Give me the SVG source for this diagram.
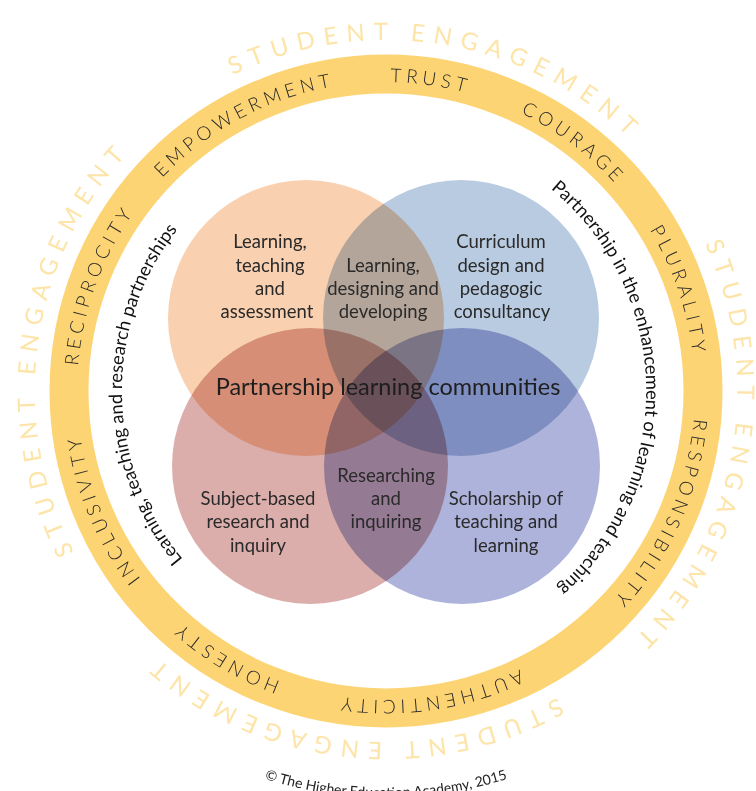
<svg xmlns="http://www.w3.org/2000/svg" xmlns:xlink="http://www.w3.org/1999/xlink" width="756" height="791" viewBox="0 0 756 791">
<style>
.outer{font-family:Lato,"Liberation Sans",sans-serif;font-size:24px;font-weight:400;fill:#fde4a8;letter-spacing:8.5px}
.ringw{font-family:Lato,"Liberation Sans",sans-serif;font-size:19px;font-weight:300;fill:#2a2a2a;letter-spacing:4.5px}
.inner{font-family:Lato,"Liberation Sans",sans-serif;font-size:18.3px;fill:#111111}
.lbl{font-family:Lato,"Liberation Sans",sans-serif;font-size:18.5px;fill:#2a2a2a;text-anchor:middle}
.big{font-family:Lato,"Liberation Sans",sans-serif;font-size:23.5px;fill:#1e1e1e;text-anchor:middle}
.copy{font-family:Lato,"Liberation Sans",sans-serif;font-size:14px;fill:#222222}
.c{mix-blend-mode:multiply}
</style>
<defs>
<path id="pOuter" d="M386,40 A351,351 0 1 1 386,742 A351,351 0 1 1 386,40 A351,351 0 1 1 386,742 A351,351 0 1 1 386,40"/>
<path id="pRing" d="M386,82 A309,309 0 1 1 386,700 A309,309 0 1 1 386,82 A309,309 0 1 1 386,700 A309,309 0 1 1 386,82"/>
<path id="pInner" d="M384,129 A262,262 0 1 1 384,653 A262,262 0 1 1 384,129 A262,262 0 1 1 384,653 A262,262 0 1 1 384,129"/>
<path id="pCopy" d="M183,743 A406,406 0 0 0 589,743"/>
</defs>
<rect width="756" height="791" fill="#ffffff"/>

<g id="ring">
<circle cx="386" cy="391" r="317" fill="none" stroke="#fdd473" stroke-width="39"/>
</g>

<g id="outer-text">
<text class="outer" text-anchor="middle"><textPath xlink:href="#pOuter" startOffset="2263">STUDENT ENGAGEMENT</textPath></text>
<text class="outer" text-anchor="middle"><textPath xlink:href="#pOuter" startOffset="2821">STUDENT ENGAGEMENT</textPath></text>
<text class="outer" text-anchor="middle"><textPath xlink:href="#pOuter" startOffset="3345">STUDENT ENGAGEMENT</textPath></text>
<text class="outer" text-anchor="middle"><textPath xlink:href="#pOuter" startOffset="3908">STUDENT ENGAGEMENT</textPath></text>
</g>

<g id="values">
<text class="ringw" text-anchor="middle"><textPath xlink:href="#pRing" startOffset="1790">EMPOWERMENT</textPath></text>
<text class="ringw" text-anchor="middle"><textPath xlink:href="#pRing" startOffset="1985">TRUST</textPath></text>
<text class="ringw" text-anchor="middle"><textPath xlink:href="#pRing" startOffset="2141">COURAGE</textPath></text>
<text class="ringw" text-anchor="middle"><textPath xlink:href="#pRing" startOffset="2324">PLURALITY</textPath></text>
<text class="ringw" text-anchor="middle"><textPath xlink:href="#pRing" startOffset="2556">RESPONSIBILITY</textPath></text>
<text class="ringw" text-anchor="middle"><textPath xlink:href="#pRing" startOffset="2866">AUTHENTICITY</textPath></text>
<text class="ringw" text-anchor="middle"><textPath xlink:href="#pRing" startOffset="3078">HONESTY</textPath></text>
<text class="ringw" text-anchor="middle"><textPath xlink:href="#pRing" startOffset="3274">INCLUSIVITY</textPath></text>
<text class="ringw" text-anchor="middle"><textPath xlink:href="#pRing" startOffset="3505">RECIPROCITY</textPath></text>
</g>

<g id="inner-text">
<text class="inner" text-anchor="middle"><textPath xlink:href="#pInner" startOffset="2876">Learning, teaching and research partnerships</textPath></text>
<text class="inner" text-anchor="middle"><textPath xlink:href="#pInner" startOffset="2053">Partnership in the enhancement of learning and teaching</textPath></text>
</g>

<g id="circles" style="isolation:isolate">
<circle id="c-tl" class="c" cx="306" cy="318" r="138" fill="#f9d0b0"/>
<circle id="c-tr" class="c" cx="461" cy="318" r="138" fill="#b9cbe0"/>
<circle id="c-bl" class="c" cx="310" cy="466" r="138" fill="#dbaeab"/>
<circle id="c-br" class="c" cx="462" cy="466" r="138" fill="#adb3db"/>
</g>

<g id="node-tl">
<text class="lbl"><tspan x="270" y="248">Learning,</tspan><tspan x="270" y="272">teaching</tspan><tspan x="270" y="295">and</tspan><tspan x="267" y="318">assessment</tspan></text>
</g>
<g id="node-top">
<text class="lbl"><tspan x="383" y="272">Learning,</tspan><tspan x="383" y="295">designing and</tspan><tspan x="383" y="318">developing</tspan></text>
</g>
<g id="node-tr">
<text class="lbl"><tspan x="501" y="248">Curriculum</tspan><tspan x="501" y="272">design and</tspan><tspan x="501" y="295">pedagogic</tspan><tspan x="502" y="318">consultancy</tspan></text>
</g>
<g id="node-center">
<text class="big" x="388" y="395">Partnership learning communities</text>
</g>
<g id="node-bl">
<text class="lbl"><tspan x="258" y="505">Subject-based</tspan><tspan x="258" y="528">research and</tspan><tspan x="258" y="552">inquiry</tspan></text>
</g>
<g id="node-bottom">
<text class="lbl"><tspan x="386" y="482">Researching</tspan><tspan x="386" y="505">and</tspan><tspan x="386" y="528">inquiring</tspan></text>
</g>
<g id="node-br">
<text class="lbl"><tspan x="506" y="505">Scholarship of</tspan><tspan x="506" y="528">teaching and</tspan><tspan x="506" y="552">learning</tspan></text>
</g>

<g id="copyright">
<text class="copy" text-anchor="middle"><textPath xlink:href="#pCopy" startOffset="50%">© The Higher Education Academy, 2015</textPath></text>
</g>
</svg>
